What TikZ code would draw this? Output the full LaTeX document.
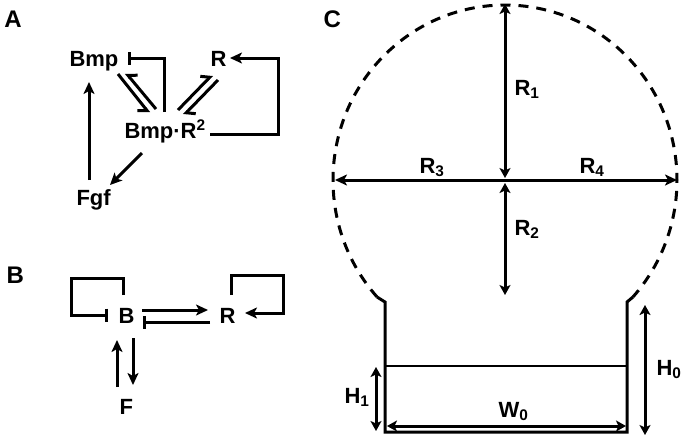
\documentclass[tikz,border=0pt]{standalone}
\usepackage{fontspec}
\setmainfont{Liberation Sans}
\usetikzlibrary{arrows.meta,calc}

\begin{document}
\begin{tikzpicture}[x=1pt, y=-1pt, line width=3pt,
    every node/.style={inner sep=0pt, anchor=base west, font=\fontsize{22}{26}\selectfont\bfseries}]
    \tikzstyle{panel} = [font=\fontsize{24}{28}\selectfont\bfseries]
    \tikzstyle{arrow} = [-{Stealth[length=12pt,width=11pt,inset=3pt]}]
    \tikzstyle{twoway} = [{Stealth[length=10pt,width=11pt,inset=2.5pt]}-{Stealth[length=10pt,width=11pt,inset=2.5pt]}]
    \tikzstyle{inhibit} = [-{Bar[width=13pt]}]
    \tikzstyle{barbright} = [-{Straight Barb[right,length=6pt,width=15pt]}]
    \tikzstyle{barbleft} = [-{Straight Barb[left,length=6pt,width=15pt]}]
    \tikzstyle{outline} = [dash pattern=on 10pt off 8pt]

    \useasboundingbox (0,0) rectangle (685,440);

    % Panel letters
    \node [panel] (pa) at (3,27) {A};
    \node [panel] (pb) at (5,283) {B};
    \node [panel] (pc) at (322,27) {C};

    % A: species
    \node (bmp) at (68,66.5) {Bmp};
    \node (ra) at (209,66.5) {R};
    \node (cplx) at (123,138) {Bmp·R\textsuperscript{2}};
    \node (fgf) at (75,205) {Fgf};

    % A: binding
    \draw [barbright] ([shift={(50,7.5)}]bmp.base west) -- ([shift={(26,-25)}]cplx.base west);
    \draw [barbright] ([shift={(33,-29)}]cplx.base west) -- ([shift={(58,6.5)}]bmp.base west);
    \draw [barbleft] ([shift={(55,-28)}]cplx.base west) -- ([shift={(3,8.5)}]ra.base west);
    \draw [barbleft] ([shift={(9,13.5)}]ra.base west) -- ([shift={(61,-23)}]cplx.base west);

    % A: regulation
    \draw [inhibit] ([shift={(41,-26)}]cplx.base west) |- ([shift={(60,-8.5)}]bmp.base west);
    \draw [arrow] ([shift={(87,-4)}]cplx.base west) -- ++(68,0) |- ([shift={(21,-8.5)}]ra.base west);
    \draw [arrow] ([shift={(14,-25)}]fgf.base west) -- ([shift={(21,15.5)}]bmp.base west);
    \draw [arrow] ([shift={(19,15)}]cplx.base west) -- ([shift={(35,-20)}]fgf.base west);

    % B: reduced network
    \node (bb) at (117,323) {B};
    \node (rb) at (218,323) {R};
    \node (fb) at (118,414) {F};

    \draw [inhibit] ([shift={(6,-28)}]bb.base west) -- ++(0,-17) -| ++(-52,37) -- ([shift={(-9,-8)}]bb.base west);
    \draw [arrow] ([shift={(25,-13)}]bb.base west) -- ([shift={(-10,-13)}]rb.base west);
    \draw [inhibit] ([shift={(-8,-1)}]rb.base west) -- ([shift={(26,-1)}]bb.base west);
    \draw [arrow] ([shift={(13,-28)}]rb.base west) -- ++(0,-20) -| ++(52,38) -- ([shift={(27,-10)}]rb.base west);
    \draw [arrow] ([shift={(-1,-27)}]fb.base west) -- ([shift={(0,17)}]bb.base west);
    \draw [arrow] ([shift={(16,15)}]bb.base west) -- ([shift={(15,-29)}]fb.base west);

    % C: geometry
    \coordinate (ctr) at (505,180);
    \coordinate (arcl) at ($(ctr)+(138:172 and 175)$);
    \coordinate (arcr) at ($(ctr)+(42:172 and 175)$);
    \draw [outline] (arcl) arc[start angle=138, end angle=402, x radius=172, y radius=175];
    \draw (arcl) -- (385,302) -- (385,432) -- (627,432) -- (627,302) -- (arcr);
    \draw [line width=2.5pt] (385,366) -- (627,366);

    \draw [twoway] ($(ctr)+(0,-2)$) -- ++(0,-174);
    \draw [twoway] ($(ctr)+(0,3)$) -- ++(0,112);
    \draw [arrow] (ctr) -- ++(-170,0);
    \draw [arrow] (ctr) -- ++(172,0);
    \draw [twoway] (387,426) -- (626,426);
    \draw [twoway] (376,367) -- (376,431);
    \draw [twoway] (645,305) -- (645,435);

    \node (r1) at (513,95) {R\textsubscript{1}};
    \node (r2) at (513,235) {R\textsubscript{2}};
    \node (r3) at (418,173) {R\textsubscript{3}};
    \node (r4) at (578,173) {R\textsubscript{4}};
    \node (w0) at (497,417) {W\textsubscript{0}};
    \node (h1) at (343,403) {H\textsubscript{1}};
    \node (h0) at (655,375) {H\textsubscript{0}};
\end{tikzpicture}
\end{document}
